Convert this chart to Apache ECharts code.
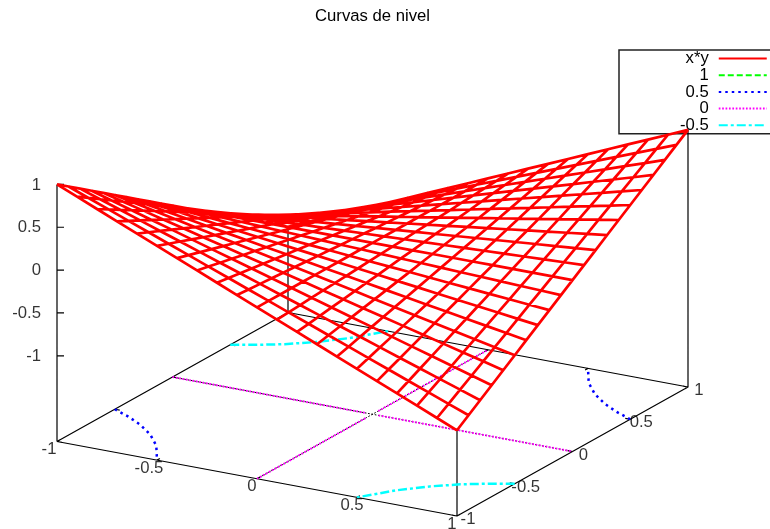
<!DOCTYPE html>
<html>
<head>
<meta charset="utf-8">
<style>html,body{margin:0;padding:0;background:#fff}#chart{width:770px;height:529px}</style>
<script src="https://cdn.jsdelivr.net/npm/echarts@6/dist/echarts.min.js"></script>
</head>
<body>
<div id="chart"></div>
<script>
const titleText = 'Curvas de nivel';
const gridCoords = [-1,-0.9,-0.8,-0.7,-0.6,-0.5,-0.4,-0.3,-0.2,-0.1,0,0.1,0.2,0.3,0.4,0.5,0.6,0.7,0.8,0.9,1];
// z values of the surface, rows follow x, columns follow y
const surfaceZ = [
[1,0.9,0.8,0.7,0.6,0.5,0.4,0.3,0.2,0.1,0,-0.1,-0.2,-0.3,-0.4,-0.5,-0.6,-0.7,-0.8,-0.9,-1],
[0.9,0.81,0.72,0.63,0.54,0.45,0.36,0.27,0.18,0.09,0,-0.09,-0.18,-0.27,-0.36,-0.45,-0.54,-0.63,-0.72,-0.81,-0.9],
[0.8,0.72,0.64,0.56,0.48,0.4,0.32,0.24,0.16,0.08,0,-0.08,-0.16,-0.24,-0.32,-0.4,-0.48,-0.56,-0.64,-0.72,-0.8],
[0.7,0.63,0.56,0.49,0.42,0.35,0.28,0.21,0.14,0.07,0,-0.07,-0.14,-0.21,-0.28,-0.35,-0.42,-0.49,-0.56,-0.63,-0.7],
[0.6,0.54,0.48,0.42,0.36,0.3,0.24,0.18,0.12,0.06,0,-0.06,-0.12,-0.18,-0.24,-0.3,-0.36,-0.42,-0.48,-0.54,-0.6],
[0.5,0.45,0.4,0.35,0.3,0.25,0.2,0.15,0.1,0.05,0,-0.05,-0.1,-0.15,-0.2,-0.25,-0.3,-0.35,-0.4,-0.45,-0.5],
[0.4,0.36,0.32,0.28,0.24,0.2,0.16,0.12,0.08,0.04,0,-0.04,-0.08,-0.12,-0.16,-0.2,-0.24,-0.28,-0.32,-0.36,-0.4],
[0.3,0.27,0.24,0.21,0.18,0.15,0.12,0.09,0.06,0.03,0,-0.03,-0.06,-0.09,-0.12,-0.15,-0.18,-0.21,-0.24,-0.27,-0.3],
[0.2,0.18,0.16,0.14,0.12,0.1,0.08,0.06,0.04,0.02,0,-0.02,-0.04,-0.06,-0.08,-0.1,-0.12,-0.14,-0.16,-0.18,-0.2],
[0.1,0.09,0.08,0.07,0.06,0.05,0.04,0.03,0.02,0.01,0,-0.01,-0.02,-0.03,-0.04,-0.05,-0.06,-0.07,-0.08,-0.09,-0.1],
[0,0,0,0,0,0,0,0,0,0,0,0,0,0,0,0,0,0,0,0,0],
[-0.1,-0.09,-0.08,-0.07,-0.06,-0.05,-0.04,-0.03,-0.02,-0.01,0,0.01,0.02,0.03,0.04,0.05,0.06,0.07,0.08,0.09,0.1],
[-0.2,-0.18,-0.16,-0.14,-0.12,-0.1,-0.08,-0.06,-0.04,-0.02,0,0.02,0.04,0.06,0.08,0.1,0.12,0.14,0.16,0.18,0.2],
[-0.3,-0.27,-0.24,-0.21,-0.18,-0.15,-0.12,-0.09,-0.06,-0.03,0,0.03,0.06,0.09,0.12,0.15,0.18,0.21,0.24,0.27,0.3],
[-0.4,-0.36,-0.32,-0.28,-0.24,-0.2,-0.16,-0.12,-0.08,-0.04,0,0.04,0.08,0.12,0.16,0.2,0.24,0.28,0.32,0.36,0.4],
[-0.5,-0.45,-0.4,-0.35,-0.3,-0.25,-0.2,-0.15,-0.1,-0.05,0,0.05,0.1,0.15,0.2,0.25,0.3,0.35,0.4,0.45,0.5],
[-0.6,-0.54,-0.48,-0.42,-0.36,-0.3,-0.24,-0.18,-0.12,-0.06,0,0.06,0.12,0.18,0.24,0.3,0.36,0.42,0.48,0.54,0.6],
[-0.7,-0.63,-0.56,-0.49,-0.42,-0.35,-0.28,-0.21,-0.14,-0.07,0,0.07,0.14,0.21,0.28,0.35,0.42,0.49,0.56,0.63,0.7],
[-0.8,-0.72,-0.64,-0.56,-0.48,-0.4,-0.32,-0.24,-0.16,-0.08,0,0.08,0.16,0.24,0.32,0.4,0.48,0.56,0.64,0.72,0.8],
[-0.9,-0.81,-0.72,-0.63,-0.54,-0.45,-0.36,-0.27,-0.18,-0.09,0,0.09,0.18,0.27,0.36,0.45,0.54,0.63,0.72,0.81,0.9],
[-1,-0.9,-0.8,-0.7,-0.6,-0.5,-0.4,-0.3,-0.2,-0.1,0,0.1,0.2,0.3,0.4,0.5,0.6,0.7,0.8,0.9,1]
];
// contour branches on the base plane, as [x, y]
const contour1 = [[[-1,-1]],[[1,1]]];
const contour05 = [
  [[-1,-0.5],[-0.9,-0.556],[-0.8,-0.625],[-0.7,-0.714],[-0.6,-0.833],[-0.5,-1]],
  [[1,0.5],[0.9,0.556],[0.8,0.625],[0.7,0.714],[0.6,0.833],[0.5,1]]
];
const contour0 = [
  [[-1,0],[-0.03,0]],[[0.03,0],[1,0]],
  [[0,-1],[0,-0.05]],[[0,0.05],[0,1]]
];
const contourM05 = [
  [[-1,0.5],[-0.9,0.556],[-0.8,0.625],[-0.7,0.714],[-0.6,0.833],[-0.5,1]],
  [[1,-0.5],[0.9,-0.556],[0.8,-0.625],[0.7,-0.714],[0.6,-0.833],[0.5,-1]]
];
const zeroAxes = [[[-1,0],[1,0]],[[0,-1],[0,1]]];
const xyTicks = [-1,-0.5,0,0.5,1];
const zTicks = [-1,-0.5,0,0.5,1];

// fixed gnuplot view: unit steps in screen pixels
const BASE_Z = -2;
function project(x, y, z) {
  return [
    57 + (x + 1) * 200 + (y + 1) * 115.5,
    441.5 + (x + 1) * 37.25 - (y + 1) * 64.5 - (z - BASE_Z) * 85.7
  ];
}

// join polylines into one line series, broken by empty points
function joinPaths(paths) {
  const out = [];
  paths.forEach((p, i) => {
    if (i) out.push([NaN, NaN]);
    p.forEach(q => out.push(q));
  });
  return out;
}
function basePaths(branches) {
  return joinPaths(branches.map(b => b.map(p => project(p[0], p[1], BASE_Z))));
}

function surfacePaths() {
  const paths = [];
  gridCoords.forEach((x, i) => {
    paths.push(gridCoords.map((y, j) => project(x, y, surfaceZ[i][j])));
  });
  gridCoords.forEach((y, j) => {
    paths.push(gridCoords.map((x, i) => project(x, y, surfaceZ[i][j])));
  });
  return joinPaths(paths);
}

function framePaths() {
  const b = BASE_Z, t = 0.025;
  const paths = [
    [project(-1,-1,b), project(1,-1,b), project(1,1,b), project(-1,1,b), project(-1,-1,b)],
    [project(-1,-1,b), project(-1,-1,1)],
    [project(1,1,b), project(1,1,1)],
    [project(1,-1,b), project(1,-1,-1)],
    [project(-1,1,b), project(-1,1,-1)]
  ];
  xyTicks.forEach(v => {
    paths.push([project(v,-1,b), project(v,-1+t,b)]);
    paths.push([project(v,1,b), project(v,1-t,b)]);
    paths.push([project(1,v,b), project(1-t,v,b)]);
    paths.push([project(-1,v,b), project(-1+t,v,b)]);
  });
  zTicks.forEach(v => {
    const p = project(-1,-1,v);
    paths.push([p, [p[0] + 7, p[1]]]);
  });
  return joinPaths(paths);
}

function lineSeries(name, data, color, width, type, z, dashOffset) {
  return {
    name, type: 'line', data, z,
    symbol: 'none', clip: false, connectNulls: false, silent: true,
    lineStyle: { color, width, type, dashOffset: dashOffset || 0, cap: 'butt', join: 'round' },
    itemStyle: { color }
  };
}

function labelSeries(items, align, dx, dy) {
  return {
    type: 'scatter', symbolSize: 0, silent: true, z: 6, clip: false,
    data: items.map(it => ({
      value: it.pos,
      label: {
        show: true, formatter: String(it.text), position: 'inside',
        align, verticalAlign: 'middle',
        offset: [dx + (it.shift || 0), dy],
        fontFamily: 'Liberation Sans', fontSize: 16.7, color: '#000'
      }
    }))
  };
}

const chart = echarts.init(document.getElementById('chart'), null, { renderer: 'canvas' });
chart.setOption({
  animation: false,
  backgroundColor: '#fff',
  title: {
    text: titleText, left: 372.5, top: 8, textAlign: 'center', padding: 0,
    textStyle: { fontFamily: 'Liberation Sans', fontSize: 16.7, fontWeight: 'normal', color: '#000' }
  },
  legend: {
    data: ['x*y', '1', '0.5', '0', '-0.5'],
    orient: 'vertical', align: 'right', selectedMode: false, z: 1,
    left: 619, top: 50, itemWidth: 48, itemHeight: 8, itemGap: -0.3,
    padding: [0, 10, 0, 61],
    borderColor: '#222', borderWidth: 1.5, backgroundColor: '#fff',
    itemStyle: { opacity: 0 },
    textStyle: { fontFamily: 'Liberation Sans', fontSize: 16.7, lineHeight: 16, color: '#000', padding: [0, 5, 0, 0] }
  },
  grid: { left: 0, right: 0, top: 0, bottom: 0 },
  xAxis: { type: 'value', min: 0, max: 770, show: false },
  yAxis: { type: 'value', min: 0, max: 529, inverse: true, show: false },
  series: [
    lineSeries('frame', framePaths(), '#000', 1.2, 'solid', 2),
    lineSeries('axes', basePaths(zeroAxes), '#000', 1, [1.7, 1.7], 2, 1.7),
    lineSeries('1', basePaths(contour1), '#00ff00', 2.5, [6, 3], 3),
    lineSeries('0.5', basePaths(contour05), '#0000ff', 2.5, [2.5, 4], 3),
    lineSeries('0', basePaths(contour0), '#ff00ff', 2, [1.7, 1.7], 3),
    lineSeries('-0.5', basePaths(contourM05), '#00ffff', 2.5, [9, 3, 3, 3], 3),
    lineSeries('x*y', surfacePaths(), '#ff0000', 2.7, 'solid', 4),
    labelSeries(zTicks.map(v => ({ pos: project(-1,-1,v), text: v })), 'right', -16, 0.5),
    labelSeries(xyTicks.map(v => ({ pos: project(v,-1,BASE_Z), text: v, shift: v < 0 ? -3 : 0 })), 'center', -5, 8),
    labelSeries(xyTicks.map(v => ({ pos: project(1,v,BASE_Z), text: v })), 'center', 11, 3.5)
  ]
});
</script>
</body>
</html>
